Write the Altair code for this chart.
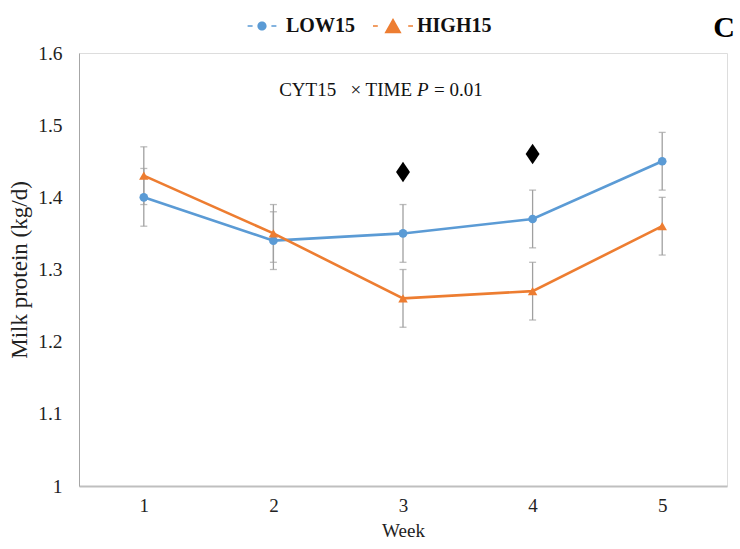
import altair as alt
import pandas as pd

# Weekly milk protein yield (kg/d), mean and SE per treatment group
weeks = [1, 2, 3, 4, 5]
low15 = [1.40, 1.34, 1.35, 1.37, 1.45]
high15 = [1.43, 1.35, 1.26, 1.27, 1.36]
low15_se = [0.04, 0.04, 0.04, 0.04, 0.04]
high15_se = [0.04, 0.04, 0.04, 0.04, 0.04]

series_names = ["LOW15", "HIGH15"]
series_colors = ["#5B9BD5", "#ED7D31"]

# Weeks with a significant difference between groups (diamond markers)
sig_weeks = [3, 4]
sig_y = [1.435, 1.46]

FONT = "Liberation Serif"

rows = []
for name, vals, ses in [("LOW15", low15, low15_se), ("HIGH15", high15, high15_se)]:
    for w, v, s in zip(weeks, vals, ses):
        rows.append({"week": w, "series": name, "value": v, "lo": v - s, "hi": v + s})
df = pd.DataFrame(rows)
sig_df = pd.DataFrame({"week": sig_weeks, "y": sig_y})

x_scale = alt.Scale(domain=[0.5, 5.5], nice=False, zero=False)
y_scale = alt.Scale(domain=[1.0, 1.6], nice=False, zero=False)

x_enc = alt.X(
    "week:Q",
    scale=x_scale,
    axis=alt.Axis(
        title="Week", values=weeks, format="d", ticks=False, grid=False,
        domainColor="#BFBFBF", domainWidth=2, labelPadding=10, titlePadding=6,
        labelFont=FONT, labelFontSize=19, labelColor="#222",
        titleFont=FONT, titleFontSize=19, titleFontWeight="normal", titleColor="#222",
    ),
)
y_enc = alt.Y(
    "value:Q",
    scale=y_scale,
    axis=alt.Axis(
        title="Milk protein (kg/d)", values=[1.0, 1.1, 1.2, 1.3, 1.4, 1.5, 1.6],
        format="~g", ticks=False, grid=False, domainColor="#A6A6A6", domainWidth=1,
        labelPadding=17, titlePadding=6,
        labelFont=FONT, labelFontSize=19.5, labelColor="#222",
        titleFont=FONT, titleFontSize=23, titleFontWeight="normal", titleColor="#222",
    ),
)

base = alt.Chart(df)

err_color = "#A0A0A0"
errbars = base.mark_rule(color=err_color, strokeWidth=1.3).encode(
    x=x_enc, y=alt.Y("lo:Q", scale=y_scale), y2="hi:Q"
)
caps_hi = base.mark_tick(color=err_color, orient="horizontal", size=7, thickness=1.3).encode(
    x="week:Q", y=alt.Y("hi:Q", scale=y_scale)
)
caps_lo = base.mark_tick(color=err_color, orient="horizontal", size=7, thickness=1.3).encode(
    x="week:Q", y=alt.Y("lo:Q", scale=y_scale)
)

layers = [errbars, caps_hi, caps_lo]
shapes = ["circle", "triangle-up"]
sizes = [75, 90]
for name, col, shp, sz in zip(series_names, series_colors, shapes, sizes):
    sub = base.transform_filter(alt.datum.series == name)
    layers.append(sub.mark_line(color=col, strokeWidth=2.6).encode(x="week:Q", y=y_enc))
    layers.append(
        sub.mark_point(filled=True, color=col, shape=shp, size=sz, opacity=1).encode(
            x="week:Q", y="value:Q"
        )
    )

# Legend symbols: short dash, marker, short dash (dashes drawn as thin bars)
circle_path = (
    "M-0.72,-0.04H-0.47V0.04H-0.72Z "
    "M-0.23,0A0.23,0.23 0 1,1 0.23,0A0.23,0.23 0 1,1 -0.23,0Z "
    "M0.47,-0.04H0.72V0.04H0.47Z"
)
triangle_path = (
    "M-1,-0.04H-0.76V0.04H-1Z "
    "M-0.43,0.36L0,-0.40L0.43,0.36Z "
    "M0.76,-0.04H1V0.04H0.76Z"
)
legend_def = alt.Legend(
    title=None, orient="none", legendX=163, legendY=-47, direction="horizontal",
    symbolSize=1600, symbolStrokeWidth=0, symbolOpacity=1, labelOffset=4,
    columnPadding=18, padding=0,
    labelFont=FONT, labelFontSize=20, labelFontWeight="bold", labelColor="#111",
)
legend_layer = base.mark_point(filled=True, opacity=0).encode(
    x="week:Q",
    y="value:Q",
    color=alt.Color(
        "series:N",
        scale=alt.Scale(domain=series_names, range=series_colors),
        legend=legend_def,
    ),
    shape=alt.Shape(
        "series:N",
        scale=alt.Scale(domain=series_names, range=[circle_path, triangle_path]),
        legend=legend_def,
    ),
)
layers.append(legend_layer)

diamonds = alt.Chart(sig_df).mark_point(
    filled=True, color="#000", opacity=1, size=420,
    shape="M0,-1L0.68,0L0,1L-0.68,0Z",
).encode(x="week:Q", y=alt.Y("y:Q", scale=y_scale))
layers.append(diamonds)

# Interaction annotation with an italic P
ann_df = pd.DataFrame({"week": [3.0], "y": [1.54]})
ann = alt.Chart(ann_df)
ann_style = dict(baseline="alphabetic", font=FONT, fontSize=19, color="#111")
ann_left = ann.mark_text(
    text="CYT15\u00a0\u00a0 \u00d7 TIME", align="right", dx=9, **ann_style
).encode(x="week:Q", y=alt.Y("y:Q", scale=y_scale))
ann_p = ann.mark_text(
    text="P", align="left", dx=14, fontStyle="italic", **ann_style
).encode(x="week:Q", y=alt.Y("y:Q", scale=y_scale))
ann_right = ann.mark_text(
    text="= 0.01", align="left", dx=31, **ann_style
).encode(x="week:Q", y=alt.Y("y:Q", scale=y_scale))
layers += [ann_left, ann_p, ann_right]

# Panel letter in the top-right corner, above the plot frame
panel_df = pd.DataFrame({"week": [5.5], "y": [1.6], "label": ["C"]})
panel = alt.Chart(panel_df).mark_text(
    align="right", baseline="alphabetic", dx=8, dy=-16,
    font=FONT, fontSize=30, fontWeight="bold", color="#000",
).encode(x="week:Q", y=alt.Y("y:Q", scale=y_scale), text="label:N")
layers.append(panel)

chart = (
    alt.layer(*layers)
    .properties(
        width=648,
        height=433,
        autosize=alt.AutoSizeParams(type="none"),
        padding={"left": 79, "top": 53, "right": 13, "bottom": 63},
    )
    .configure_view(stroke=None)
    .configure(background="white")
)

chart.save("out.html", embed_options={"renderer": "svg", "actions": False})
